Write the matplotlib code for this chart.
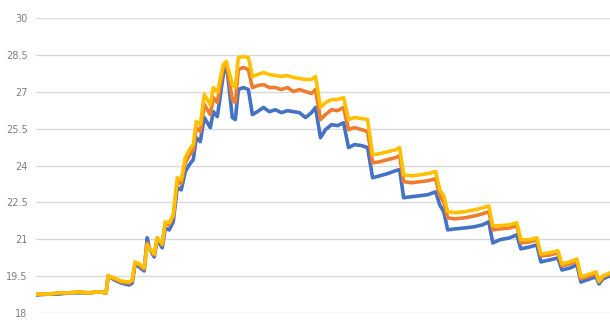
import matplotlib
matplotlib.use('Agg')
import matplotlib.pyplot as plt

# sample positions (arbitrary time index) and the three temperature series
t = [0, 13, 23, 33, 43, 53, 63, 70, 72, 78, 85, 93, 96, 99, 103, 108, 111, 113,
     118, 121, 126, 129, 133, 137, 141, 145, 149, 153, 157, 160, 164, 168, 171,
     174, 177, 181, 187, 190, 196, 199, 202, 207, 212, 216, 221, 227, 233, 239,
     245, 251, 257, 263, 269, 275, 279, 284, 289, 295, 301, 307, 312, 318, 325,
     331, 336, 343, 351, 359, 363, 367, 375, 383, 391, 399, 403, 407, 411, 418,
     428, 438, 446, 452, 456, 463, 473, 480, 484, 493, 500, 504, 513, 521, 525,
     533, 540, 544, 553, 559, 562, 566, 573]

yellow = [18.77, 18.77, 18.82, 18.82, 18.86, 18.82, 18.86, 18.82, 19.51, 19.43,
          19.30, 19.26, 19.35, 20.08, 20.00, 19.83, 20.77, 20.65, 20.40, 21.06,
          20.81, 21.71, 21.67, 21.99, 23.50, 23.42, 24.32, 24.64, 24.85, 25.79,
          25.66, 26.89, 26.68, 26.48, 27.17, 26.97, 28.11, 28.23, 27.29, 27.17,
          28.39, 28.43, 28.39, 27.62, 27.70, 27.78, 27.70, 27.66, 27.62, 27.66,
          27.58, 27.54, 27.50, 27.50, 27.62, 26.36, 26.56, 26.68, 26.68, 26.76,
          25.87, 25.95, 25.91, 25.87, 24.44, 24.48, 24.56, 24.64, 24.73, 23.62,
          23.58, 23.62, 23.67, 23.75, 23.01, 22.77, 22.12, 22.08, 22.12, 22.20,
          22.28, 22.36, 21.55, 21.55, 21.59, 21.67, 20.98, 20.98, 21.06, 20.40,
          20.45, 20.53, 20.00, 20.08, 20.20, 19.47, 19.59, 19.67, 19.30, 19.51,
          19.63]

orange = [18.77, 18.77, 18.82, 18.82, 18.86, 18.82, 18.86, 18.82, 19.51, 19.39,
          19.26, 19.22, 19.30, 20.04, 19.96, 19.79, 20.85, 20.65, 20.36, 21.06,
          20.77, 21.63, 21.59, 21.91, 23.34, 23.26, 24.11, 24.40, 24.64, 25.54,
          25.38, 26.48, 26.27, 26.07, 26.76, 26.56, 27.99, 28.15, 26.68, 26.56,
          27.90, 27.99, 27.90, 27.17, 27.25, 27.29, 27.17, 27.17, 27.09, 27.17,
          27.01, 27.09, 27.01, 26.93, 27.09, 25.87, 26.07, 26.27, 26.23, 26.36,
          25.46, 25.54, 25.46, 25.38, 24.11, 24.15, 24.24, 24.32, 24.40, 23.34,
          23.30, 23.34, 23.38, 23.46, 22.77, 22.52, 21.87, 21.83, 21.87, 21.95,
          22.04, 22.12, 21.38, 21.42, 21.46, 21.55, 20.85, 20.89, 20.98, 20.32,
          20.36, 20.45, 19.92, 20.00, 20.12, 19.39, 19.51, 19.59, 19.26, 19.47,
          19.59]

blue = [18.73, 18.77, 18.77, 18.82, 18.82, 18.82, 18.86, 18.82, 19.51, 19.35,
        19.22, 19.14, 19.22, 20.00, 19.87, 19.71, 21.06, 20.65, 20.28, 20.98,
        20.65, 21.46, 21.38, 21.71, 23.10, 23.01, 23.75, 24.03, 24.24, 25.13,
        24.97, 25.95, 25.74, 25.54, 26.19, 25.99, 27.70, 28.19, 25.95, 25.87,
        27.09, 27.17, 27.09, 26.07, 26.19, 26.36, 26.19, 26.27, 26.15, 26.23,
        26.19, 26.15, 25.95, 26.15, 26.36, 25.13, 25.46, 25.66, 25.62, 25.74,
        24.73, 24.85, 24.81, 24.73, 23.50, 23.58, 23.67, 23.79, 23.83, 22.69,
        22.73, 22.77, 22.81, 22.93, 22.40, 22.12, 21.38, 21.42, 21.46, 21.51,
        21.59, 21.71, 20.85, 20.98, 21.06, 21.18, 20.61, 20.69, 20.77, 20.08,
        20.16, 20.24, 19.75, 19.83, 19.96, 19.26, 19.39, 19.47, 19.18, 19.39,
        19.51]

y_ticks = [18, 19.5, 21, 22.5, 24, 25.5, 27, 28.5, 30]
y_labels = ['18', '19.5', '21', '22.5', '24', '25.5', '27', '28.5', '30']

fig = plt.figure(figsize=(6.1, 3.22), dpi=100)
ax = fig.add_axes([36 / 610, 9 / 322, 574 / 610, 295 / 322])

ax.plot(t, blue, color='#4472C4', linewidth=2.6, solid_joinstyle='round')
ax.plot(t, orange, color='#ED7D31', linewidth=2.6, solid_joinstyle='round')
ax.plot(t, yellow, color='#FFC000', linewidth=2.6, solid_joinstyle='round')

ax.set_ylim(18, 30)
ax.set_xlim(0, 573)
ax.set_yticks(y_ticks)
ax.set_yticklabels(y_labels)
ax.set_xticks([])
ax.tick_params(axis='y', length=0, pad=6, labelsize=7, labelcolor='#7F7F7F')
ax.grid(axis='y', color='#D9D9D9', linewidth=1)
ax.set_axisbelow(True)
for s in ax.spines.values():
    s.set_visible(False)

fig.savefig('out.png', dpi=100)
